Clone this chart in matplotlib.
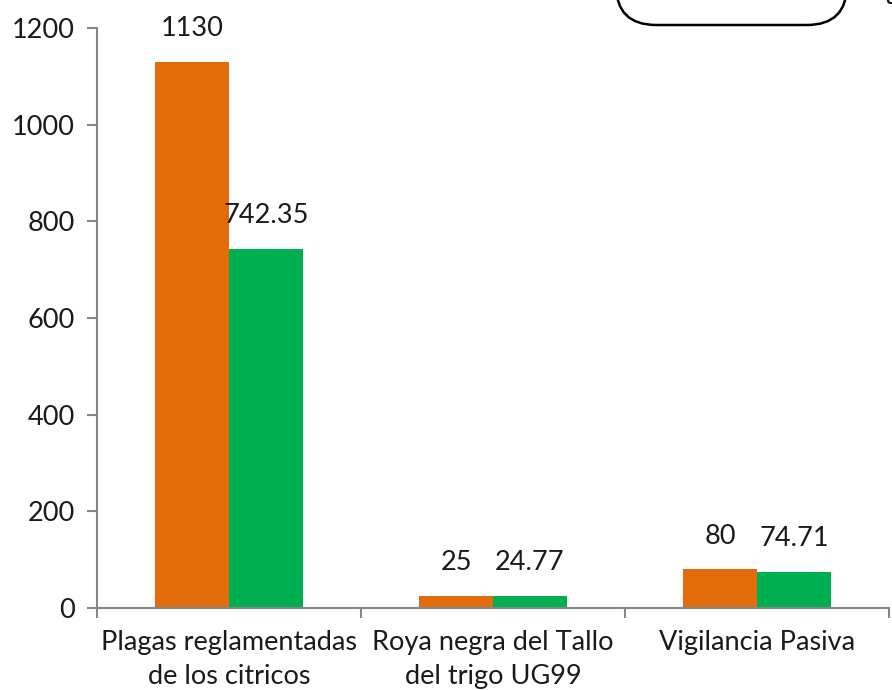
import matplotlib.pyplot as plt
import numpy as np
from matplotlib.patches import FancyBboxPatch

# Data
categories = ['Plagas reglamentadas\nde los citricos', 'Roya negra del Tallo\ndel trigo UG99', 'Vigilancia Pasiva']
programado = [1130, 25, 80]
ejecutado = [742.35, 24.77, 74.71]
labels_prog = ['1130', '25', '80']
labels_ejec = ['742.35', '24.77', '74.71']
yticks = [0, 200, 400, 600, 800, 1000, 1200]

plt.rcParams['font.family'] = ['Lato', 'DejaVu Sans']

fig = plt.figure(figsize=(8.92, 6.9), dpi=100)
ax = fig.add_axes([97 / 892, 82 / 690, 792 / 892, 580 / 690])

orange = '#E36C0A'
green = '#00B050'
gray = '#868686'
txt = '#1a1a1a'
fs = 19.5

x = np.arange(len(categories))
w = 0.28
ax.bar(x - w / 2, programado, w, color=orange)
ax.bar(x + w / 2, ejecutado, w, color=green)

for xi, v, t in zip(x, programado, labels_prog):
    ax.annotate(t, (xi - w / 2, v), xytext=(0, 24), textcoords='offset points',
                ha='center', va='center', fontsize=fs, color=txt)
for xi, v, t in zip(x, ejecutado, labels_ejec):
    ax.annotate(t, (xi + w / 2, v), xytext=(0, 24), textcoords='offset points',
                ha='center', va='center', fontsize=fs, color=txt)

ax.set_xlim(-0.5, 2.5)
ax.set_ylim(0, 1200)
ax.set_yticks(yticks)
ax.tick_params(axis='y', labelsize=fs, labelcolor=txt, length=7, width=1.5, color=gray, pad=9)

# category separators as x ticks
ax.set_xticks([-0.5, 0.5, 1.5, 2.5])
ax.set_xticklabels([])
ax.tick_params(axis='x', length=7, width=1.5, color=gray)
for xi, c in zip(x, categories):
    ax.annotate(c, (xi, 0), xytext=(0, -16), textcoords='offset points',
                ha='center', va='top', fontsize=fs, color=txt,
                linespacing=1.42, annotation_clip=False)

for s in ['top', 'right']:
    ax.spines[s].set_visible(False)
for s in ['left', 'bottom']:
    ax.spines[s].set_color(gray)
    ax.spines[s].set_linewidth(1.5)

# legend box cut off at the top of the picture
box = FancyBboxPatch((616 / 892, 1 - 25 / 690), 231 / 892, 0.1,
                     boxstyle='round,pad=0,rounding_size=0.045',
                     transform=fig.transFigure, facecolor='white',
                     edgecolor='black', linewidth=1.8, clip_on=False,
                     mutation_aspect=892 / 690)
fig.patches.append(box)
fig.text(885 / 892, 1 + 4 / 690, 'a', fontsize=fs, color=txt, ha='left', va='center')

fig.savefig('out.png', dpi=100)
